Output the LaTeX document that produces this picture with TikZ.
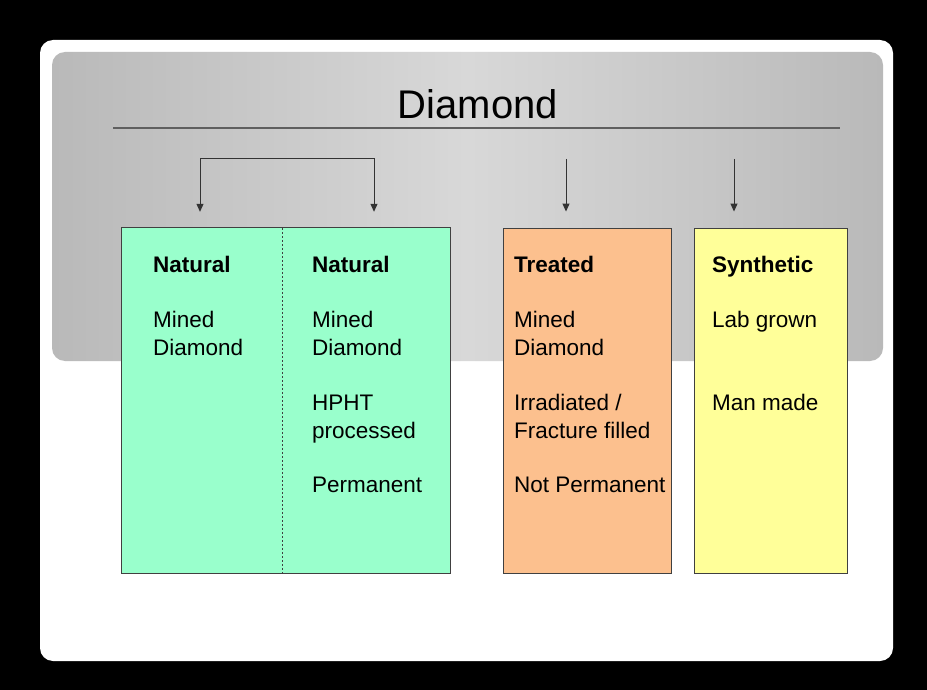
\documentclass[tikz,border=0pt]{standalone}
\usepackage{fontspec}
\setmainfont{Liberation Sans}
\usetikzlibrary{arrows.meta}
\definecolor{edgegray}{RGB}{185,185,185}
\definecolor{midgray}{RGB}{216,216,216}
\definecolor{rulegray}{RGB}{95,95,95}
\definecolor{natgreen}{RGB}{153,255,204}
\definecolor{treatorange}{RGB}{252,192,142}
\definecolor{synyellow}{RGB}{255,255,153}
\definecolor{boxedge}{RGB}{64,64,64}
\tikzset{
  colbox/.style={rectangle, inner sep=0pt, draw=boxedge, line width=0.9pt},
  txt/.style={inner sep=0pt, anchor=base west, font=\fontsize{22.5}{27}\selectfont, text=black},
  conn/.style={draw=black!80, line width=1pt, -{Triangle[width=7pt,length=8pt]}}
}
\begin{document}
\begin{tikzpicture}[x=1pt,y=-1pt]
\useasboundingbox (0,0) rectangle (927,690);
\fill[black] (0,0) rectangle (927,690);
% white slide
\fill[white, rounded corners=13pt] (40,40) rectangle (893,661);
% gray panel
\shade[left color=edgegray, right color=edgegray, middle color=midgray, rounded corners=13pt] (52,52) rectangle (883,361);
% title
\node[inner sep=0pt, anchor=base, font=\fontsize{40}{48}\selectfont] (title) at (478,119) {Diamond};
\draw[rulegray, line width=1.6pt] (113,128) -- (840,128);
% boxes
\node[rectangle, inner sep=0pt, fill=natgreen, minimum width=160pt, minimum height=345pt] (natL) at (202,400.5) {};
\node[rectangle, inner sep=0pt, fill=natgreen, minimum width=168pt, minimum height=345pt] (natR) at (366,400.5) {};
\draw[boxedge, line width=0.9pt] (natL.north west) rectangle (natR.south east);
\draw[boxedge, line width=0.7pt, dash pattern=on 2pt off 2pt] (natL.north east) -- (natL.south east);
\node[colbox, fill=treatorange, minimum width=168pt, minimum height=345pt] (treat) at (587,400.5) {};
\node[colbox, fill=synyellow, minimum width=153pt, minimum height=345pt] (syn) at (770.5,400.5) {};
% connectors
\coordinate (bl) at (200,159);
\coordinate (br) at (374,159);
\coordinate (al) at ([yshift=16pt]natL.north -| bl);
\coordinate (ar) at ([yshift=16pt]natR.north -| br);
\draw[conn] (bl) -- (br) -- (ar);
\draw[conn] (bl) -- (al);
\coordinate (tt) at (566,159);
\coordinate (st) at (734,159);
\draw[conn] (tt) -- ([yshift=16pt]treat.north -| tt);
\draw[conn] (st) -- ([yshift=16pt]syn.north -| st);
% texts column 1
\node[txt] (n1a) at (153,272) {\bfseries Natural};
\node[txt] (n1b) at (153,327) {Mined};
\node[txt] (n1c) at (153,355) {Diamond};
% column 2
\node[txt] (n2a) at (312,272) {\bfseries Natural};
\node[txt] (n2b) at (312,327) {Mined};
\node[txt] (n2c) at (312,355) {Diamond};
\node[txt] (n2d) at (312,410) {HPHT};
\node[txt] (n2e) at (312,438) {processed};
\node[txt] (n2f) at (312,492) {Permanent};
% treated
\node[txt] (t1) at (514,272) {\bfseries Treated};
\node[txt] (t2) at (514,327) {Mined};
\node[txt] (t3) at (514,355) {Diamond};
\node[txt] (t4) at (514,410) {Irradiated /};
\node[txt] (t5) at (514,438) {Fracture filled};
\node[txt] (t6) at (514,492) {Not Permanent};
% synthetic
\node[txt] (s1) at (712,272) {\bfseries Synthetic};
\node[txt] (s2) at (712,327) {Lab grown};
\node[txt] (s3) at (712,410) {Man made};
\end{tikzpicture}
\end{document}
